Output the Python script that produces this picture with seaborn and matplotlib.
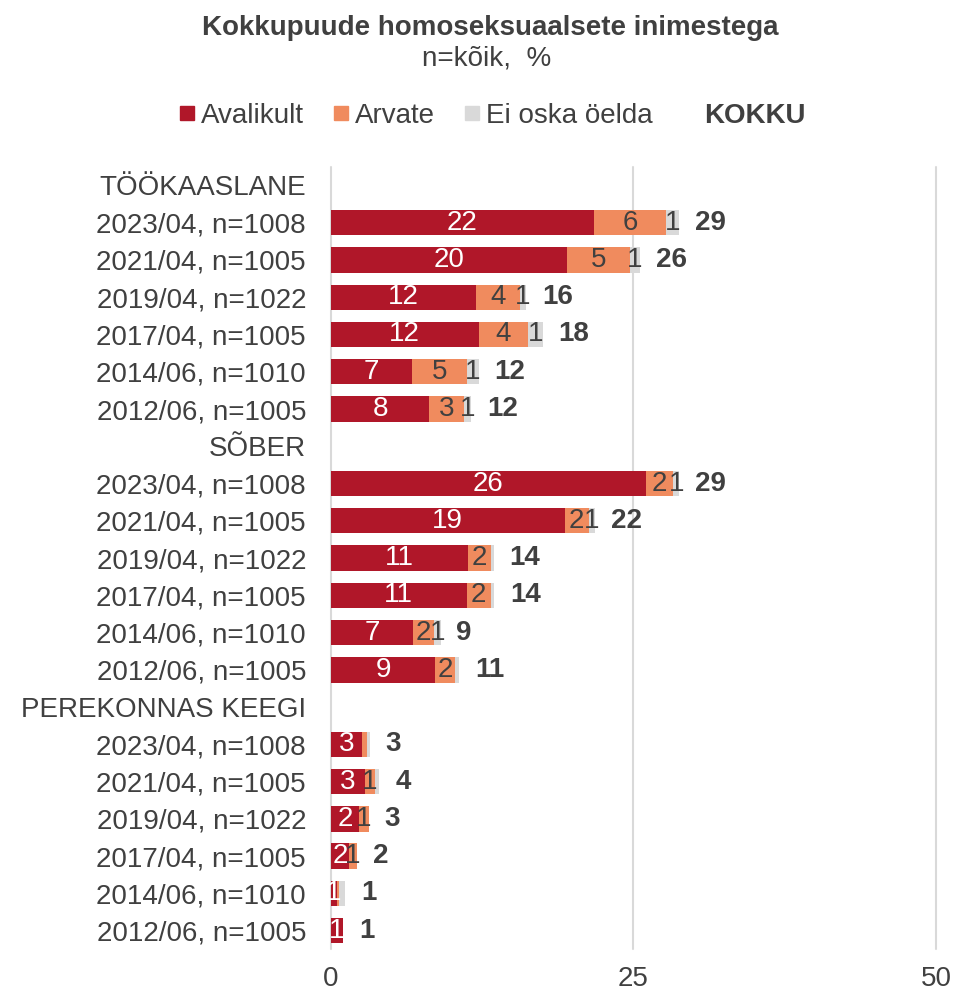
import matplotlib
matplotlib.use("Agg")
from matplotlib import pyplot as plt
from matplotlib.lines import Line2D
import pandas as pd
import seaborn as sns

sns.set_theme(style="white")
plt.rcParams["font.family"] = ["Liberation Sans", "DejaVu Sans"]

# --- data ---
groups = ["TÖÖKAASLANE", "SÕBER", "PEREKONNAS KEEGI"]
waves = ["2023/04, n=1008", "2021/04, n=1005", "2019/04, n=1022",
         "2017/04, n=1005", "2014/06, n=1010", "2012/06, n=1005"]
series = ["Avalikult", "Arvate", "Ei oska öelda"]

avalikult_tookaaslane = [21.7, 19.5, 12.0, 12.2, 6.7, 8.1]
arvate_tookaaslane = [6.0, 5.2, 3.6, 4.1, 4.5, 2.9]
eos_tookaaslane = [1.1, 0.8, 0.55, 1.2, 1.0, 0.6]
kokku_tookaaslane = [29, 26, 16, 18, 12, 12]

avalikult_sober = [26.0, 19.3, 11.3, 11.2, 6.8, 8.6]
arvate_sober = [2.3, 2.0, 1.9, 2.0, 1.7, 1.65]
eos_sober = [0.5, 0.5, 0.25, 0.3, 0.55, 0.35]
kokku_sober = [29, 22, 14, 14, 9, 11]

avalikult_perekond = [2.6, 2.8, 2.3, 1.5, 0.5, 1.0]
arvate_perekond = [0.4, 0.8, 0.8, 0.65, 0.2, 0.0]
eos_perekond = [0.2, 0.4, 0.0, 0.0, 0.45, 0.0]
kokku_perekond = [3, 4, 3, 2, 1, 1]

RED = "#B01729"
ORANGE = "#F08B5E"
GRAY = "#D9D9D9"
DARK = "#404040"
FS = 20

# build long table: a header row per group, then the waves
rows = []
for g, a_l, b_l, c_l, t_l in zip(
        groups,
        [avalikult_tookaaslane, avalikult_sober, avalikult_perekond],
        [arvate_tookaaslane, arvate_sober, arvate_perekond],
        [eos_tookaaslane, eos_sober, eos_perekond],
        [kokku_tookaaslane, kokku_sober, kokku_perekond]):
    rows.append(dict(key=g, label=g, a=0.0, b=0.0, c=0.0, total=None))
    for w, a, b, c, t in zip(waves, a_l, b_l, c_l, t_l):
        rows.append(dict(key=g + " " + w, label=w, a=a, b=b, c=c, total=t))
df = pd.DataFrame(rows)
df["ab"] = df["a"] + df["b"]
df["abc"] = df["ab"] + df["c"]

fig = plt.figure(figsize=(9.55, 9.93), dpi=100)
ax = fig.add_axes([0.3466, 0.044, 0.6335, 0.788])

# stacked bars drawn as overlapping cumulative sums
for col, color in [("abc", GRAY), ("ab", ORANGE), ("a", RED)]:
    sns.barplot(data=df, x=col, y="key", order=list(df["key"]), color=color,
                saturation=1, width=0.68, errorbar=None, orient="y", ax=ax,
                linewidth=0, edgecolor="none")

for i, r in df.iterrows():
    if pd.isna(r["total"]):
        continue
    start = 0
    for v, tc in [(r["a"], "white"), (r["b"], DARK), (r["c"], DARK)]:
        if v >= 0.5:
            ax.text(start + v / 2, i, str(int(v + 0.5)), ha="center", va="center",
                    color=tc, fontsize=FS)
        start += v
    ax.annotate(str(int(r["total"])), (r["abc"], i), xytext=(11.5, 0),
                textcoords="offset points", ha="left", va="center",
                fontweight="bold", color=DARK, fontsize=FS)

ax.set_yticks(range(len(df)))
ax.set_yticklabels(df["label"])
ax.set_ylim(len(df) - 0.5, -0.5)
ax.set_xlim(0, 50)
ax.set_xticks([0, 25, 50])
ax.set_xlabel("")
ax.set_ylabel("")
ax.tick_params(axis="y", length=0, pad=18, labelsize=FS, labelcolor=DARK)
ax.tick_params(axis="x", length=0, pad=12, labelsize=FS, labelcolor=DARK)
ax.xaxis.grid(True, color=GRAY, linewidth=1.5)
for gl in ax.get_xgridlines():
    gl.set_clip_on(False)
ax.set_axisbelow(True)
sns.despine(ax=ax, left=True, bottom=True)

fig.text(0.513, 0.972, "Kokkupuude homoseksuaalsete inimestega", ha="center",
         va="center", fontsize=FS, fontweight="bold", color=DARK)
fig.text(0.51, 0.941, "n=kõik,  %", ha="center", va="center", fontsize=FS, color=DARK)

handles = [Line2D([], [], marker="s", ls="", color=c, markersize=9.5)
           for c in [RED, ORANGE, GRAY]]
handles.append(Line2D([], [], ls="", marker=""))
leg = fig.legend(handles, series + ["KOKKU"], loc="center", bbox_to_anchor=(0.516, 0.883),
                 ncol=4, frameon=False, fontsize=FS, handlelength=0.5,
                 handletextpad=0.25, columnspacing=1.1)
for t in leg.get_texts():
    t.set_color(DARK)
leg.get_texts()[3].set_fontweight("bold")

fig.savefig("out.png", dpi=100)
